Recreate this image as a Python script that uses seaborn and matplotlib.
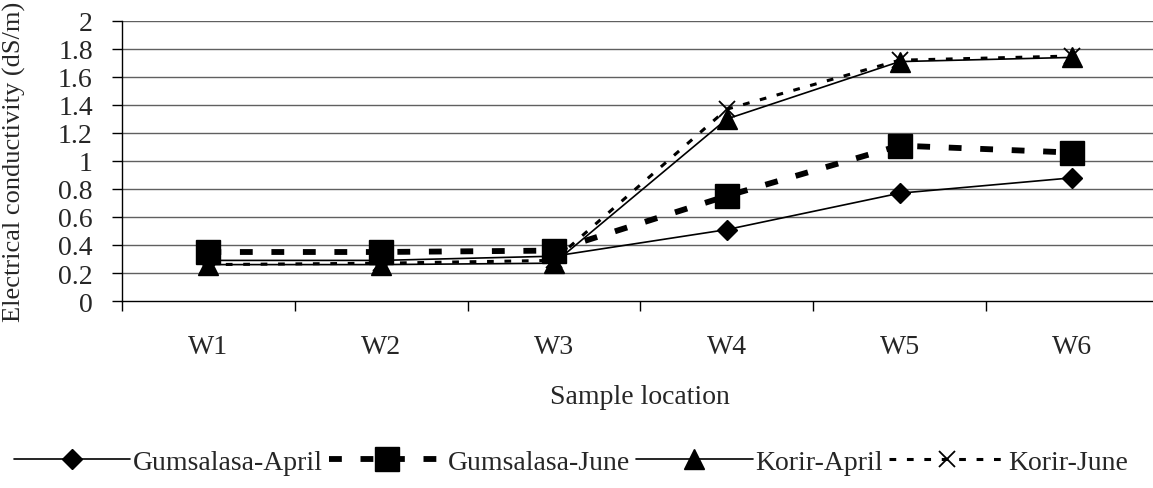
import matplotlib
matplotlib.use("Agg")
import matplotlib.pyplot as plt
import seaborn as sns
import pandas as pd

categories = ["W1", "W2", "W3", "W4", "W5", "W6"]
gumsalasa_april = [0.29, 0.29, 0.32, 0.51, 0.77, 0.88]
gumsalasa_june = [0.35, 0.35, 0.36, 0.75, 1.11, 1.06]
korir_april = [0.26, 0.26, 0.27, 1.30, 1.71, 1.74]
korir_june = [0.26, 0.27, 0.29, 1.37, 1.72, 1.75]
series_names = ["Gumsalasa-April", "Gumsalasa-June", "Korir-April", "Korir-June"]
yticks = [0, 0.2, 0.4, 0.6, 0.8, 1, 1.2, 1.4, 1.6, 1.8, 2]
ytick_labels = ["0", "0.2", "0.4", "0.6", "0.8", "1", "1.2", "1.4", "1.6", "1.8", "2"]

sns.set_theme(style="white")
plt.rcParams["font.family"] = ["Liberation Serif", "DejaVu Serif"]

FS = 20
W, H = 1153, 489
fig = plt.figure(figsize=(W / 100, H / 100), dpi=100)
ax = fig.add_axes([122 / W, 1 - 302 / H, 6 * 172.8 / W, 280 / H])

styles = {
    "Gumsalasa-April": dict(color="black", lw=1.2, ls="-", marker="D", ms=10),
    "Gumsalasa-June": dict(color="black", lw=4.2, ls=(0, (2.2, 3.2)), marker="s", ms=17),
    "Korir-April": dict(color="black", lw=1.2, ls="-", marker="^", ms=14),
    "Korir-June": dict(color="black", lw=2.2, ls=(0, (2.2, 3.5)), marker="x", ms=11, mew=1.3),
}
values = [gumsalasa_april, gumsalasa_june, korir_april, korir_june]

for name, vals in zip(series_names, values):
    df = pd.DataFrame({"loc": categories, "val": vals})
    st = styles[name]
    sns.lineplot(data=df, x="loc", y="val", ax=ax, label=name, sort=False,
                 color=st["color"], linewidth=st["lw"], linestyle=st["ls"],
                 marker=st["marker"], markersize=st["ms"],
                 markeredgecolor="black", markerfacecolor="black",
                 markeredgewidth=st.get("mew", 1.0), zorder=3)

ax.set_xlim(-0.5, 5.5)
ax.set_ylim(0, 2)
ax.set_yticks(yticks)
ax.set_yticklabels(ytick_labels, fontsize=FS)
ax.set_xticks(range(len(categories)))
ax.set_xticklabels(categories, fontsize=FS)
ax.set_xticks([i - 0.5 for i in range(len(categories) + 1)], minor=True)
ax.tick_params(axis="x", which="major", length=0, pad=24)
ax.tick_params(axis="x", which="minor", length=7, width=1, color="black", direction="out", bottom=True)
ax.tick_params(axis="y", which="major", length=7, width=1, color="black", direction="out", left=True, pad=14)
for y in yticks[1:]:
    ax.axhline(y, color="#606060", lw=1.0, zorder=1)
for s in ["top", "right"]:
    ax.spines[s].set_visible(False)
ax.spines["left"].set_color("black")
ax.spines["bottom"].set_color("black")
ax.spines["left"].set_linewidth(1)
ax.spines["bottom"].set_linewidth(1)
ax.grid(False)
ax.set_xlabel("Sample location", fontsize=FS, labelpad=18)
ax.set_ylabel("")
fig.text(14 / W, 1 - 162 / H, "Electrical conductivity (dS/m)", rotation=90,
         ha="center", va="center", fontsize=FS - 1)

handles, labels = ax.get_legend_handles_labels()
ax.get_legend().remove()
fig.legend(handles, labels, loc="center", bbox_to_anchor=(0.495, 1 - 463 / H),
           ncol=4, frameon=False, fontsize=FS, handlelength=4.2,
           handletextpad=0.1, columnspacing=0.2, borderaxespad=0)

fig.savefig("out.png", dpi=100)
